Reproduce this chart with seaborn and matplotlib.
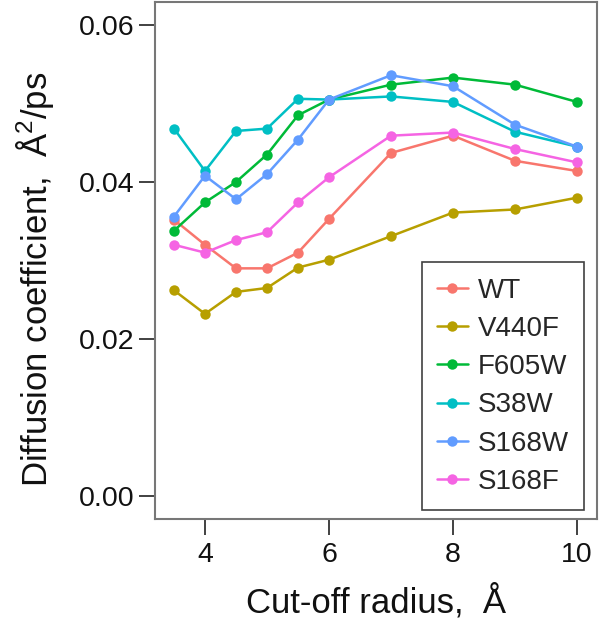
import numpy as np
import pandas as pd
import matplotlib
matplotlib.use("Agg")
import matplotlib.pyplot as plt
import seaborn as sns

radius = [3.5, 4, 4.5, 5, 5.5, 6, 7, 8, 9, 10]
variants = ["WT", "V440F", "F605W", "S38W", "S168W", "S168F"]
wt    = [0.0352, 0.0320, 0.0290, 0.0290, 0.0310, 0.0353, 0.0437, 0.0459, 0.0427, 0.0414]
v440f = [0.0262, 0.0232, 0.0260, 0.0265, 0.0291, 0.0301, 0.0331, 0.0361, 0.0365, 0.0380]
f605w = [0.0338, 0.0374, 0.0400, 0.0435, 0.0485, 0.0505, 0.0524, 0.0533, 0.0524, 0.0502]
s38w  = [0.0468, 0.0414, 0.0465, 0.0468, 0.0506, 0.0505, 0.0509, 0.0502, 0.0464, 0.0445]
s168w = [0.0356, 0.0408, 0.0378, 0.0410, 0.0454, 0.0505, 0.0536, 0.0522, 0.0473, 0.0445]
s168f = [0.0320, 0.0310, 0.0326, 0.0336, 0.0374, 0.0406, 0.0459, 0.0463, 0.0442, 0.0425]
colors = ["#F8766D", "#B79F00", "#00BA38", "#00BFC4", "#619CFF", "#F564E3"]

series = [wt, v440f, f605w, s38w, s168w, s168f]
df = pd.DataFrame({
    "radius": np.tile(radius, len(variants)),
    "D": np.concatenate(series),
    "variant": np.repeat(variants, len(radius)),
})

sns.set_theme(style="white")
plt.rcParams["font.family"] = ["Liberation Sans", "DejaVu Sans"]
plt.rcParams["mathtext.fontset"] = "custom"
plt.rcParams["mathtext.rm"] = "Liberation Sans"

fig = plt.figure(figsize=(6, 6.24), dpi=100)
ax = fig.add_axes([155/600, 1-519/624, 442/600, 517/624])

sns.lineplot(data=df, x="radius", y="D", hue="variant", hue_order=variants,
             palette=colors, marker="o", markersize=7.5, markeredgewidth=0,
             linewidth=1.8, ax=ax)

ax.set_xlim(4 - 50/62, 10 + 20/62)
ax.set_ylim(-0.02*23/157, 0.06 + 0.02*23/157)
ax.set_xticks([4, 6, 8, 10])
ax.set_yticks([0.00, 0.02, 0.04, 0.06])
ax.set_yticklabels(["0.00", "0.02", "0.04", "0.06"])

for s in ax.spines.values():
    s.set_color("#777777")
    s.set_linewidth(1.5)
ax.tick_params(axis="both", which="major", length=11.5, width=1.3,
               color="#333333", labelsize=20.5, labelcolor="#111111",
               left=True, bottom=True, direction="out")
ax.tick_params(axis="x", pad=5)
ax.tick_params(axis="y", pad=3.5)

ax.set_xlabel("Cut-off radius,  Å", fontsize=25, labelpad=11.5, color="#111111")
ax.set_ylabel("Diffusion coefficient,  Å$^2$/ps", fontsize=25, labelpad=16, color="#111111")
ax.yaxis.label.set_y(0.463)

handles, labels = ax.get_legend_handles_labels()
leg = ax.legend(handles, labels, loc="lower right",
                bbox_to_anchor=(0.9706, 0.0174), borderaxespad=0,
                fontsize=20, frameon=True, fancybox=False,
                handlelength=1.1, handletextpad=0.36, labelspacing=0.44,
                borderpad=0.55, title=None)
leg.get_frame().set_edgecolor("#111111")
leg.get_frame().set_linewidth(1.2)

fig.savefig("out.png", dpi=100)
